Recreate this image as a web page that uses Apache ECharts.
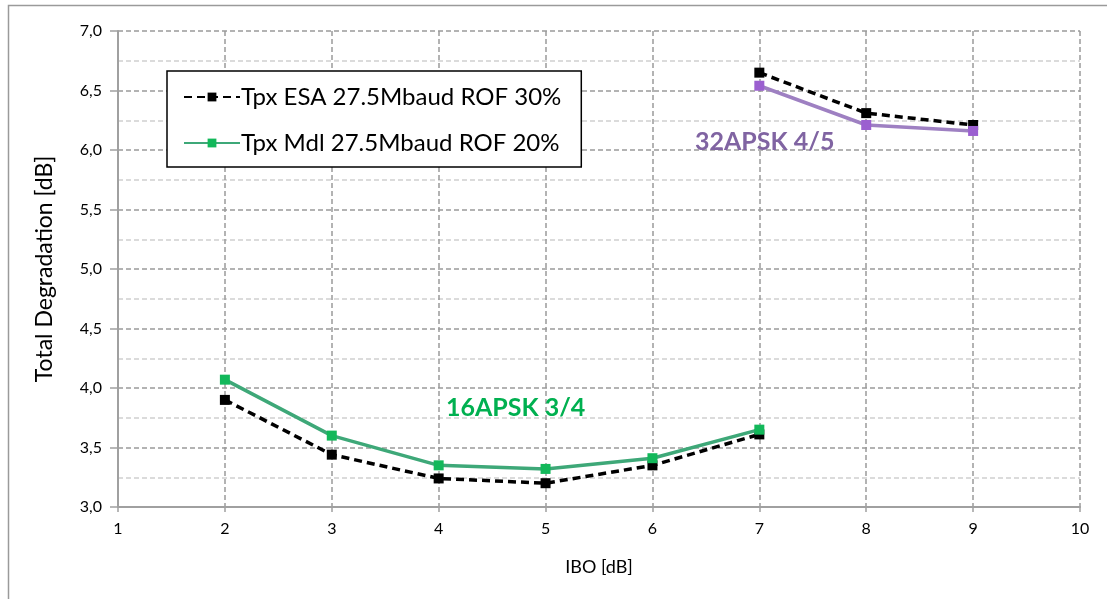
<!DOCTYPE html>
<html>
<head>
<meta charset="utf-8">
<script src="https://cdn.jsdelivr.net/npm/echarts@6/dist/echarts.min.js"></script>
<style>
html,body{margin:0;padding:0;background:#fff;}
#chart{width:1107px;height:599px;}
</style>
</head>
<body>
<div id="chart"></div>
<script>
// IBO sweep points (dB)
const ibo16 = [2, 3, 4, 5, 6, 7];
const ibo32 = [7, 8, 9];

// Total degradation (dB), ESA transponder model
const esa16 = [3.90, 3.44, 3.24, 3.20, 3.35, 3.61];
const esa32 = [6.65, 6.31, 6.21];

// Total degradation (dB), Mdl transponder model
const mdl16 = [4.07, 3.60, 3.35, 3.32, 3.41, 3.65];
const mdl32 = [6.54, 6.21, 6.16];

const seriesNames = ['Tpx ESA 27.5Mbaud ROF 30%', 'Tpx Mdl 27.5Mbaud ROF 20%'];
const modcodLabels = ['16APSK 3/4', '32APSK 4/5'];
const modcodLabelPos = [[4.72, 3.83], [7.05, 6.07]];

const pairs = (xs, ys) => xs.map((x, i) => [x, ys[i]]);

const FONT = 'Lato, "Open Sans", sans-serif';

const chart = echarts.init(document.getElementById('chart'));

const esaStyle = {
  type: 'line',
  name: seriesNames[0],
  symbol: 'rect',
  symbolSize: 10,
  lineStyle: { color: '#000', width: 3.5, type: [8, 5] },
  itemStyle: { color: '#000' },
  z: 3
};

// invisible anchor carrying a modcod caption
const caption = (text, pos, color) => ({
  symbol: 'circle',
  symbolSize: 1,
  silent: true,
  itemStyle: { color: 'rgba(0,0,0,0)' },
  label: { show: true },
  data: [{
    coord: pos,
    label: {
      show: true, formatter: text, position: 'inside',
      fontFamily: FONT, fontSize: 25, fontWeight: 'bold', color: color
    }
  }]
});

chart.setOption({
  animation: false,
  backgroundColor: '#fff',
  textStyle: { fontFamily: FONT },
  grid: { left: 118, top: 31, right: 27, bottom: 92, containLabel: false },
  graphic: [{
    type: 'rect',
    shape: { x: 8.5, y: 5.5, width: 1200, height: 700 },
    style: { fill: 'none', stroke: '#9a9a9a', lineWidth: 1.5 },
    silent: true, z: -10
  }],
  legend: {
    data: seriesNames,
    orient: 'vertical',
    left: 167,
    top: 71,
    padding: [14, 20, 12, 16],
    itemGap: 22,
    itemWidth: 56,
    itemHeight: 11,
    borderColor: '#000',
    borderWidth: 1.5,
    backgroundColor: '#fff',
    textStyle: { fontFamily: FONT, fontSize: 24, color: '#000', padding: [0, 0, 0, -4] }
  },
  xAxis: {
    type: 'value',
    min: 1, max: 10, interval: 1,
    name: 'IBO [dB]',
    nameLocation: 'middle',
    nameGap: 51,
    nameTextStyle: { fontFamily: FONT, fontSize: 18, color: '#000' },
    axisLine: { lineStyle: { color: '#a0a0a0', width: 2 } },
    axisTick: { show: true, length: 5, inside: false, lineStyle: { color: '#a0a0a0', width: 1.5 } },
    axisLabel: { fontFamily: FONT, fontSize: 16, color: '#000', margin: 14 },
    splitLine: { show: true, lineStyle: { color: '#9a9a9a', width: 1.5, type: [5, 3] } }
  },
  yAxis: {
    type: 'value',
    min: 3, max: 7, interval: 0.5,
    name: 'Total Degradation [dB]',
    nameLocation: 'middle',
    nameGap: 62,
    nameTextStyle: { fontFamily: FONT, fontSize: 23, color: '#000' },
    axisLine: { show: true, lineStyle: { color: '#a0a0a0', width: 2 } },
    axisTick: { show: true, length: 8, lineStyle: { color: '#a0a0a0', width: 1.5 } },
    axisLabel: {
      fontFamily: FONT, fontSize: 16, color: '#000', margin: 16,
      formatter: v => v.toFixed(1).replace('.', ',')
    },
    minorTick: { show: false, splitNumber: 2 },
    minorSplitLine: { show: true, lineStyle: { color: '#cfcfcf', width: 1.5, type: [5, 3] } },
    splitLine: { show: true, lineStyle: { color: '#9a9a9a', width: 1.5, type: [5, 3] } }
  },
  series: [
    Object.assign({}, esaStyle, { data: pairs(ibo16, esa16) }),
    Object.assign({}, esaStyle, { data: pairs(ibo32, esa32) }),
    {
      type: 'line',
      name: seriesNames[1],
      symbol: 'rect',
      symbolSize: 10,
      lineStyle: { color: '#3ea878', width: 3.5 },
      itemStyle: { color: '#12b85a' },
      data: pairs(ibo16, mdl16),
      z: 4,
      markPoint: caption(modcodLabels[0], modcodLabelPos[0], '#00b050')
    },
    {
      type: 'line',
      name: 'mdl32',
      symbol: 'rect',
      symbolSize: 10,
      lineStyle: { color: '#9e80c2', width: 3.5 },
      itemStyle: { color: '#9b5fd0' },
      data: pairs(ibo32, mdl32),
      z: 4,
      markPoint: caption(modcodLabels[1], modcodLabelPos[1], '#8064a2')
    }
  ]
});
</script>
</body>
</html>
